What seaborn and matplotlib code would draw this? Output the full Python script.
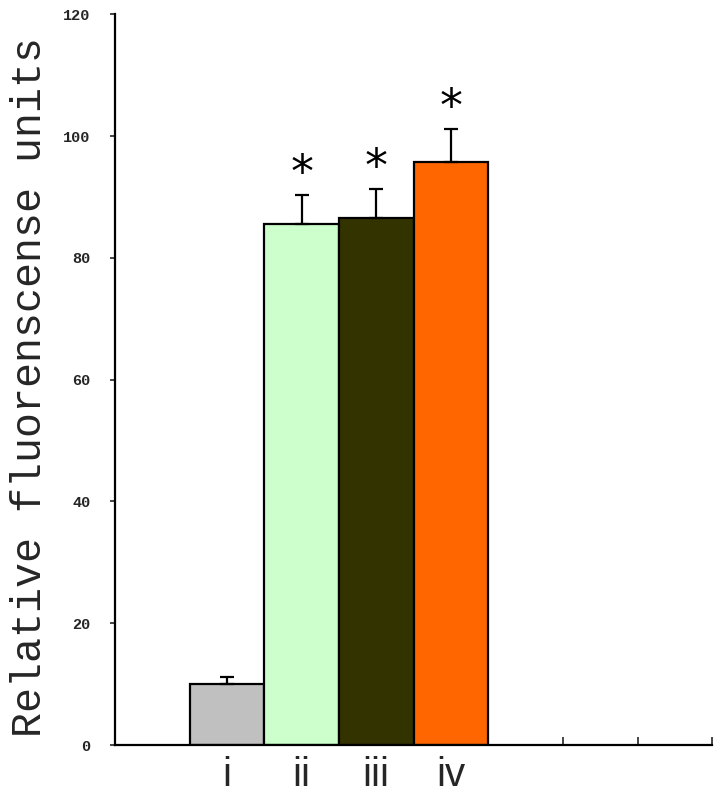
import seaborn as sns
import pandas as pd
import matplotlib.pyplot as plt

############# Data ######################################
groups = ['i', 'ii', 'iii', 'iv']
means = [10.0, 85.5, 86.6, 95.7]
errors = [1.1, 4.8, 4.7, 5.5]
significant = [False, True, True, True]
colors = ['#C0C0C0', '#CCFFCC', '#333300', '#FF6600']
# empty slots on the category axis (one before, three after)
slot_order = ['_a'] + groups + ['_b', '_c', '_d']

df = pd.DataFrame({'group': groups, 'value': means})

############# Plot ######################################
sns.set_style('white')
fig = plt.figure(figsize=(7.23, 7.93), dpi=100)
ax = fig.add_axes([0.159, 0.0605, 0.826, 0.9215])

sns.barplot(data=df, x='group', y='value', hue='group', order=slot_order,
            hue_order=groups, palette=colors, saturation=1, width=1.0,
            edgecolor='black', linewidth=1.6, legend=False, dodge=False, ax=ax)

xpos = [slot_order.index(g) for g in groups]
ax.errorbar(xpos, means, yerr=[[0] * len(errors), errors], fmt='none',
            ecolor='black', elinewidth=1.6, capsize=5, capthick=1.6, zorder=3)

for x, m, e, s in zip(xpos, means, errors, significant):
    if s:
        ax.text(x, m + e - 0.3, '*', ha='center', va='bottom',
                fontsize=33, family='DejaVu Sans', color='black')

# axes styling
ax.set_xlim(-0.5, len(slot_order) - 0.5)
ax.set_ylim(0, 120)
ax.set_yticks(range(0, 121, 20))
ax.set_yticklabels([str(v) for v in range(0, 121, 20)],
                   family='Liberation Mono', fontweight='bold', fontsize=11)
ax.set_xticks(xpos)
ax.set_xticklabels(groups, family='Liberation Sans', fontsize=29)
ax.tick_params(axis='x', length=0, pad=8)
ax.tick_params(axis='y', direction='out', length=3.5, width=1.2, pad=14, left=True)
ax.set_xticks([5.5, 6.5, 7.5], minor=True)
ax.tick_params(axis='x', which='minor', direction='in', length=6, width=1.2, bottom=True)

for side in ['top', 'right']:
    ax.spines[side].set_visible(False)
for side in ['left', 'bottom']:
    ax.spines[side].set_color('black')
    ax.spines[side].set_linewidth(1.6)

ax.set_xlabel('')
ax.set_ylabel('Relative fluorenscense units', family='Liberation Mono', fontsize=30)
ax.yaxis.set_label_coords(-0.108, 0.49)

plt.savefig('out.png', dpi=100)
